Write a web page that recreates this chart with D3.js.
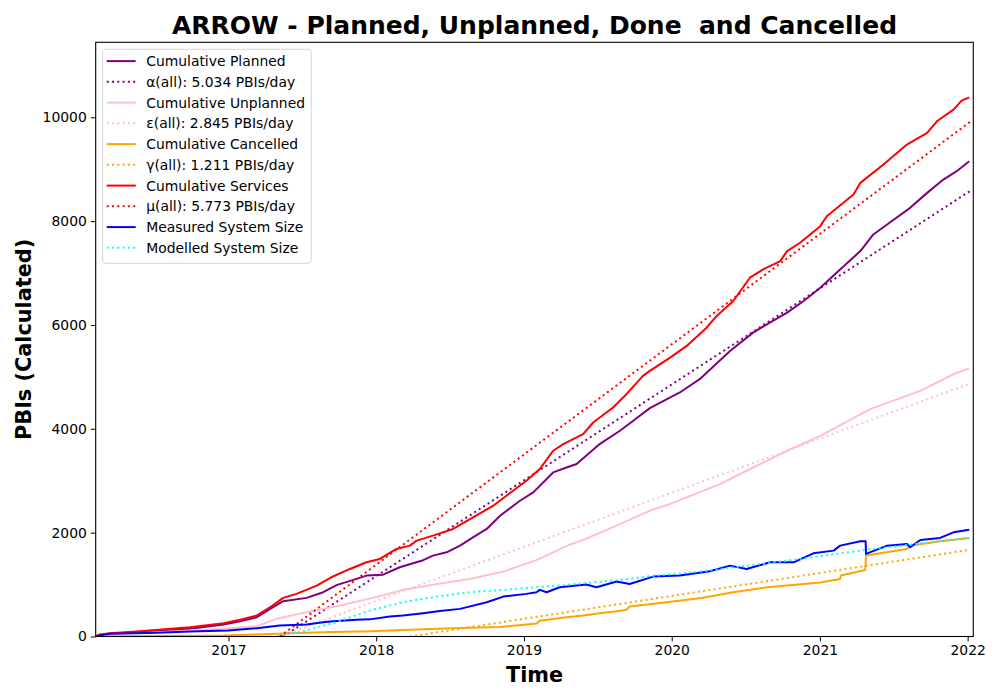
<!DOCTYPE html>
<html>
<head>
<meta charset="utf-8">
<script src="https://cdn.jsdelivr.net/npm/d3@7"></script>
<style>
  html, body { margin: 0; padding: 0; background: #fff; }
  svg { display: block; font-family: "DejaVu Sans", sans-serif; }
</style>
</head>
<body>
<div id="chart"></div>
<script>
// values: [date, PBIs]
const planned = [
  ["2016-02-08", 0], ["2016-02-18", 30], ["2016-03-14", 51], ["2016-07-08", 102],
  ["2016-09-28", 148], ["2016-12-20", 231], ["2017-01-30", 295], ["2017-03-12", 372],
  ["2017-04-14", 532], ["2017-05-16", 680], ["2017-07-13", 744], ["2017-08-23", 853],
  ["2017-09-25", 990], ["2017-11-13", 1109], ["2017-12-08", 1173], ["2018-01-18", 1190],
  ["2018-02-28", 1333], ["2018-04-27", 1470], ["2018-05-21", 1558], ["2018-06-24", 1622],
  ["2018-07-27", 1750], ["2018-08-28", 1910], ["2018-10-01", 2071], ["2018-11-03", 2327],
  ["2018-12-22", 2615], ["2019-01-24", 2776], ["2019-03-14", 3160], ["2019-04-16", 3256],
  ["2019-05-11", 3321], ["2019-07-07", 3706], ["2019-08-26", 3962], ["2019-09-28", 4154],
  ["2019-11-08", 4398], ["2020-01-21", 4700], ["2020-03-10", 4956], ["2020-05-24", 5500],
  ["2020-07-20", 5852], ["2020-08-23", 6013], ["2020-10-12", 6237], ["2020-11-22", 6461],
  ["2021-01-02", 6718], ["2021-02-20", 7070], ["2021-04-11", 7423], ["2021-05-13", 7743],
  ["2021-06-16", 7935], ["2021-08-12", 8256], ["2021-09-23", 8544], ["2021-11-02", 8801],
  ["2021-12-05", 8961], ["2022-01-05", 9153]
];
const unplanned = [
  ["2016-02-08", 0], ["2016-03-14", 40], ["2016-07-08", 83], ["2016-12-20", 148],
  ["2017-03-12", 199], ["2017-04-30", 340], ["2017-07-13", 468], ["2017-10-03", 596],
  ["2017-12-24", 744], ["2018-03-10", 900], ["2018-06-01", 1013], ["2018-08-20", 1109],
  ["2018-11-11", 1250], ["2019-02-01", 1470], ["2019-04-24", 1770], ["2019-05-27", 1859],
  ["2019-08-18", 2135], ["2019-11-08", 2423], ["2019-12-28", 2552], ["2020-04-29", 2936],
  ["2020-07-04", 3192], ["2020-10-12", 3577], ["2021-01-02", 3865], ["2021-05-05", 4378],
  ["2021-09-06", 4731], ["2021-11-27", 5051], ["2022-01-05", 5166]
];
const cancelled = [
  ["2016-02-08", 0], ["2016-12-20", 19], ["2017-04-30", 51], ["2017-08-23", 83],
  ["2017-12-16", 102], ["2018-02-04", 115], ["2018-05-30", 148], ["2018-08-20", 167],
  ["2018-11-03", 185], ["2019-02-01", 250], ["2019-02-09", 305], ["2019-04-16", 372],
  ["2019-05-27", 404], ["2019-07-07", 449], ["2019-08-18", 487], ["2019-09-11", 513],
  ["2019-09-19", 577], ["2019-12-19", 660], ["2020-03-14", 740], ["2020-06-01", 853],
  ["2020-08-23", 949], ["2020-10-12", 981], ["2021-01-02", 1040], ["2021-02-20", 1109],
  ["2021-02-22", 1173], ["2021-04-23", 1282], ["2021-04-25", 1558], ["2021-08-04", 1686],
  ["2021-08-12", 1750], ["2021-10-25", 1833], ["2022-01-05", 1898]
];
const services = [
  ["2016-02-08", 0], ["2016-02-18", 40], ["2016-03-14", 63], ["2016-05-27", 102],
  ["2016-09-28", 179], ["2016-12-20", 256], ["2017-01-30", 321], ["2017-03-12", 404],
  ["2017-04-14", 564], ["2017-05-16", 744], ["2017-06-18", 821], ["2017-08-07", 981],
  ["2017-09-12", 1141], ["2017-10-28", 1301], ["2017-12-08", 1429], ["2018-01-10", 1494],
  ["2018-02-20", 1686], ["2018-03-25", 1750], ["2018-04-11", 1846], ["2018-05-21", 1942],
  ["2018-07-10", 2071], ["2018-08-28", 2295], ["2018-10-17", 2519], ["2018-12-05", 2808],
  ["2019-01-07", 3000], ["2019-02-09", 3225], ["2019-03-14", 3577], ["2019-04-08", 3706],
  ["2019-05-27", 3898], ["2019-06-21", 4122], ["2019-08-09", 4410], ["2019-09-11", 4667],
  ["2019-10-22", 5019], ["2019-11-08", 5115], ["2019-12-28", 5372], ["2020-02-07", 5596],
  ["2020-03-27", 5948], ["2020-04-21", 6173], ["2020-06-01", 6461], ["2020-07-12", 6910],
  ["2020-08-14", 7070], ["2020-09-25", 7230], ["2020-10-12", 7423], ["2020-11-13", 7583],
  ["2021-01-02", 7903], ["2021-01-18", 8095], ["2021-03-25", 8512], ["2021-04-11", 8737],
  ["2021-06-07", 9089], ["2021-08-04", 9474], ["2021-09-23", 9698], ["2021-10-17", 9923],
  ["2021-11-27", 10148], ["2021-12-17", 10320], ["2022-01-05", 10384]
];
const measured = [
  ["2016-02-08", 0], ["2016-02-18", 19], ["2016-03-14", 51], ["2016-07-08", 71],
  ["2016-09-28", 96], ["2016-12-31", 115], ["2017-03-12", 160], ["2017-05-08", 212],
  ["2017-07-13", 231], ["2017-08-23", 276], ["2017-09-17", 295], ["2017-11-13", 321],
  ["2017-12-16", 330], ["2018-02-04", 385], ["2018-03-08", 404], ["2018-04-27", 449],
  ["2018-06-07", 490], ["2018-07-27", 532], ["2018-10-01", 660], ["2018-11-11", 769],
  ["2019-01-07", 821], ["2019-02-01", 853], ["2019-02-09", 898], ["2019-02-26", 853],
  ["2019-03-30", 949], ["2019-06-04", 1000], ["2019-06-29", 949], ["2019-08-18", 1060],
  ["2019-09-19", 1010], ["2019-11-16", 1154], ["2020-01-21", 1173], ["2020-04-04", 1256],
  ["2020-05-24", 1365], ["2020-07-04", 1301], ["2020-08-31", 1429], ["2020-10-28", 1429],
  ["2020-12-16", 1602], ["2021-02-04", 1654], ["2021-02-20", 1750], ["2021-04-11", 1833],
  ["2021-04-24", 1833], ["2021-04-25", 1590], ["2021-06-16", 1750], ["2021-08-04", 1782],
  ["2021-08-12", 1718], ["2021-09-06", 1859], ["2021-10-25", 1898], ["2021-11-27", 2006],
  ["2022-01-05", 2058]
];
const modelled = [
  ["2017-05-01", 0], ["2017-05-08", 19], ["2017-07-05", 102], ["2017-09-25", 276],
  ["2017-12-16", 500], ["2018-03-08", 660], ["2018-05-30", 769], ["2018-08-20", 853],
  ["2018-11-11", 898], ["2019-02-01", 949], ["2019-04-24", 1000], ["2019-08-26", 1090],
  ["2019-11-08", 1160], ["2020-03-10", 1250], ["2020-10-12", 1461], ["2021-05-05", 1680],
  ["2022-01-05", 1898]
];
// linear fits: start and end points
const alphaFit = [["2017-05-16", 0], ["2022-01-07", 8580]];
const epsilonFit = [["2017-05-06", 0], ["2022-01-07", 4870]];
const gammaFit = [["2018-03-25", 0], ["2022-01-07", 1672]];
const muFit = [["2017-05-08", 0], ["2022-01-07", 9910]];

const xDomain = ["2016-02-08", "2022-01-15"];
const yMax = 11444;
const yTicks = [0, 2000, 4000, 6000, 8000, 10000];
const xTicks = ["2017-01-01", "2018-01-01", "2019-01-01", "2020-01-01", "2021-01-01", "2022-01-01"];

const series = [
  { label: "Cumulative Planned", data: planned, color: "purple", dotted: false },
  { label: "\u03b1(all): 5.034 PBIs/day", data: alphaFit, color: "purple", dotted: true },
  { label: "Cumulative Unplanned", data: unplanned, color: "pink", dotted: false },
  { label: "\u03b5(all): 2.845 PBIs/day", data: epsilonFit, color: "pink", dotted: true },
  { label: "Cumulative Cancelled", data: cancelled, color: "orange", dotted: false },
  { label: "\u03b3(all): 1.211 PBIs/day", data: gammaFit, color: "orange", dotted: true },
  { label: "Cumulative Services", data: services, color: "red", dotted: false },
  { label: "\u03bc(all): 5.773 PBIs/day", data: muFit, color: "red", dotted: true },
  { label: "Measured System Size", data: measured, color: "blue", dotted: false },
  { label: "Modelled System Size", data: modelled, color: "cyan", dotted: true }
];

const W = 1000, H = 700;
const m = { left: 95.7, right: 1000 - 973.3, top: 42.3, bottom: 700 - 636.5 };
const parse = d3.timeParse("%Y-%m-%d");

const svg = d3.select("#chart").append("svg").attr("width", W).attr("height", H);

const x = d3.scaleTime().domain(xDomain.map(parse)).range([m.left, W - m.right]);
const y = d3.scaleLinear().domain([0, yMax]).range([H - m.bottom, m.top]);

svg.append("defs").append("clipPath").attr("id", "plot")
  .append("rect")
  .attr("x", m.left).attr("y", m.top)
  .attr("width", W - m.left - m.right).attr("height", H - m.top - m.bottom);

const line = d3.line().x(d => x(parse(d[0]))).y(d => y(d[1]));

const lines = svg.append("g").attr("clip-path", "url(#plot)");
series.forEach(s => {
  lines.append("path")
    .datum(s.data)
    .attr("fill", "none")
    .attr("stroke", s.color)
    .attr("stroke-width", 2)
    .attr("stroke-linejoin", "round")
    .attr("stroke-dasharray", s.dotted ? "2,3.3" : null)
    .attr("d", line);
});

// axes
const xAxis = svg.append("g")
  .attr("transform", `translate(0,${H - m.bottom})`)
  .call(d3.axisBottom(x).tickValues(xTicks.map(parse)).tickFormat(d3.timeFormat("%Y"))
    .tickSize(4.9).tickPadding(4));
const yAxis = svg.append("g")
  .attr("transform", `translate(${m.left},0)`)
  .call(d3.axisLeft(y).tickValues(yTicks).tickFormat(d3.format("d"))
    .tickSize(4.9).tickPadding(4));
[xAxis, yAxis].forEach(a => {
  a.select(".domain").remove();
  a.selectAll(".tick line").attr("stroke", "#000").attr("stroke-width", 1);
  a.selectAll(".tick text").attr("fill", "#000")
    .style("font-size", "13.9px").style("font-family", "DejaVu Sans");
});

svg.append("rect")
  .attr("x", m.left).attr("y", m.top)
  .attr("width", W - m.left - m.right).attr("height", H - m.top - m.bottom)
  .attr("fill", "none").attr("stroke", "#000").attr("stroke-width", 1.1);

// titles
svg.append("text")
  .attr("x", (m.left + W - m.right) / 2).attr("y", 34)
  .attr("text-anchor", "middle")
  .style("font-size", "25px").style("font-weight", "bold").style("white-space", "pre")
  .text("ARROW - Planned, Unplanned, Done  and Cancelled");

svg.append("text")
  .attr("x", (m.left + W - m.right) / 2).attr("y", 682)
  .attr("text-anchor", "middle")
  .style("font-size", "20.8px").style("font-weight", "bold")
  .text("Time");

svg.append("text")
  .attr("transform", `translate(31,${(m.top + H - m.bottom) / 2}) rotate(-90)`)
  .attr("text-anchor", "middle")
  .style("font-size", "20.8px").style("font-weight", "bold")
  .text("PBIs (Calculated)");

// legend
const lg = svg.append("g").attr("transform", "translate(102.7,49.3)");
lg.append("rect")
  .attr("width", 208.5).attr("height", 214).attr("rx", 3)
  .attr("fill", "#fff").attr("fill-opacity", 0.8)
  .attr("stroke", "#d6d6d6").attr("stroke-width", 1);
series.forEach((s, i) => {
  const yy = 11.8 + i * 20.75;
  lg.append("line")
    .attr("x1", 4).attr("x2", 33).attr("y1", yy).attr("y2", yy)
    .attr("stroke", s.color).attr("stroke-width", 2)
    .attr("stroke-dasharray", s.dotted ? "2,3.3" : null);
  lg.append("text")
    .attr("x", 43.5).attr("y", yy + 5)
    .style("font-size", "13.9px")
    .text(s.label);
});
</script>
</body>
</html>
